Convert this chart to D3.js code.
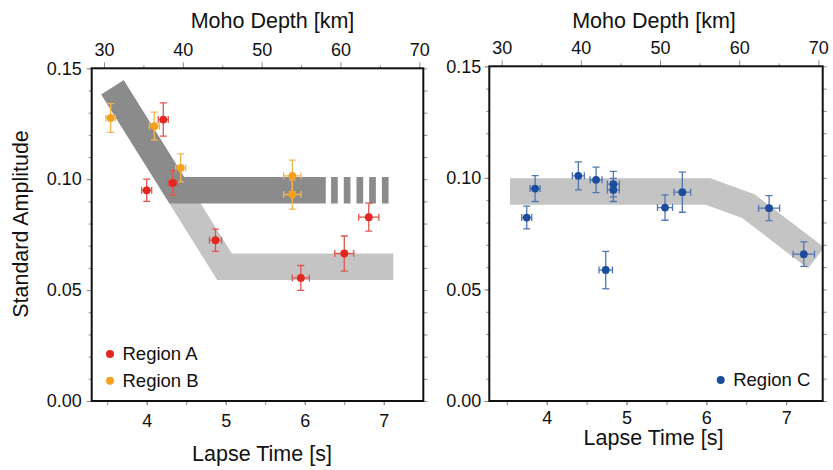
<!DOCTYPE html>
<html>
<head>
<meta charset="utf-8">
<script src="https://cdn.jsdelivr.net/npm/d3@7"></script>
<style>
  body { margin: 0; background: #fff; }
  svg { font-family: "Liberation Sans", Arial, sans-serif; }
</style>
</head>
<body>
<script>
// ---- data ----
var yTicks = [0.00, 0.05, 0.10, 0.15];
var depthTicks = [30, 40, 50, 60, 70];
var timeTicks = [4, 5, 6, 7];

// Region A (red)
var regionA_t  = [4.21, 4.33, 4.00, 4.87, 5.95, 6.50, 6.81];
var regionA_v  = [0.1269, 0.0983, 0.0950, 0.0725, 0.0555, 0.0665, 0.0829];
var regionA_te = [0.063, 0.057, 0.063, 0.076, 0.108, 0.120, 0.127];
var regionA_ve = [0.0075, 0.0056, 0.0050, 0.0050, 0.0056, 0.0079, 0.0063];

// Region B (orange)
var regionB_t  = [3.544, 4.096, 4.43, 5.843, 5.843];
var regionB_v  = [0.1276, 0.1239, 0.1051, 0.1015, 0.0931];
var regionB_te = [0.060, 0.063, 0.063, 0.110, 0.110];
var regionB_ve = [0.0065, 0.0063, 0.0063, 0.0071, 0.0066];

// Region C (blue)
var regionC_t  = [3.749, 3.854, 4.396, 4.618, 4.835, 4.835, 4.739, 5.482, 5.699, 6.786, 7.221];
var regionC_v  = [0.0822, 0.0952, 0.1009, 0.0991, 0.0972, 0.0946, 0.0587, 0.0867, 0.0936, 0.0864, 0.0658];
var regionC_te = [0.063, 0.063, 0.075, 0.075, 0.075, 0.075, 0.084, 0.094, 0.104, 0.132, 0.134];
var regionC_ve = [0.0051, 0.0058, 0.0063, 0.0057, 0.0057, 0.0052, 0.0084, 0.0057, 0.0090, 0.0056, 0.0055];

// trend bands (centre lines)
var bandLight_t = [3.567, 4.985, 7.12];
var bandLight_v = [0.1414, 0.0605, 0.0605];
var bandDark_t  = [3.567, 4.382, 6.266];
var bandDark_v  = [0.1414, 0.0950, 0.0950];
var bandDash_t  = [6.333, 7.07];
var bandDash_v  = [0.0950, 0.0950];
var bandC_t     = [3.54, 6.021, 6.523, 7.375];
var bandC_v     = [0.0939, 0.0939, 0.0874, 0.0641];

var red = "#e3261f", redBar = "#e0544c";
var orange = "#f4a11c", orangeBar = "#f2b450";
var blue = "#1d4c9c", blueBar = "#5075b3";

function zip(t, v, te, ve) {
  return t.map((d, i) => ({t: d, v: v[i], te: te ? te[i] : 0, ve: ve ? ve[i] : 0}));
}

var svg = d3.select("body").append("svg")
  .attr("width", 833).attr("height", 470);

function drawPanel(cfg) {
  var x = d3.scaleLinear().domain(cfg.xDomain).range([cfg.left, cfg.right]);
  var y = d3.scaleLinear().domain([0, 0.15]).range([cfg.bottom, cfg.top]);
  var xTop = d3.scaleLinear().domain([30, 70]).range(cfg.topRange);

  var g = svg.append("g");
  var clipId = "clip" + cfg.id;
  svg.append("clipPath").attr("id", clipId).append("rect")
    .attr("x", cfg.left).attr("y", cfg.top)
    .attr("width", cfg.right - cfg.left).attr("height", cfg.bottom - cfg.top);

  var plot = g.append("g").attr("clip-path", `url(#${clipId})`);
  var line = d3.line().x(d => x(d.t)).y(d => y(d.v));

  cfg.bands.forEach(b => {
    plot.append("path")
      .datum(zip(b.t, b.v))
      .attr("d", line)
      .attr("fill", "none")
      .attr("stroke", b.color)
      .attr("stroke-width", 26.5)
      .attr("stroke-linejoin", "miter")
      .attr("stroke-linecap", "butt")
      .attr("stroke-dasharray", b.dash || null);
  });

  cfg.series.forEach(s => {
    var pts = zip(s.t, s.v, s.te, s.ve);
    var eg = plot.append("g").attr("stroke", s.bar).attr("stroke-width", 1.3).attr("fill", "none");
    pts.forEach(d => {
      var cx = x(d.t), cy = y(d.v);
      var y0 = y(d.v - d.ve), y1 = y(d.v + d.ve);
      var x0 = x(d.t - d.te), x1 = x(d.t + d.te);
      eg.append("line").attr("x1", cx).attr("x2", cx).attr("y1", y0).attr("y2", y1);
      eg.append("line").attr("x1", cx - 3.5).attr("x2", cx + 3.5).attr("y1", y0).attr("y2", y0);
      eg.append("line").attr("x1", cx - 3.5).attr("x2", cx + 3.5).attr("y1", y1).attr("y2", y1);
      eg.append("line").attr("x1", x0).attr("x2", x1).attr("y1", cy).attr("y2", cy);
      eg.append("line").attr("x1", x0).attr("x2", x0).attr("y1", cy - 3.5).attr("y2", cy + 3.5);
      eg.append("line").attr("x1", x1).attr("x2", x1).attr("y1", cy - 3.5).attr("y2", cy + 3.5);
    });
    plot.append("g").selectAll("circle").data(pts).enter().append("circle")
      .attr("cx", d => x(d.t)).attr("cy", d => y(d.v)).attr("r", 3.9)
      .attr("fill", s.color);
  });

  // axes
  var fmt = d3.format(".2f");
  var minorY = d3.range(0, 0.1501, 0.01);
  g.append("g").attr("transform", `translate(${cfg.left},0)`)
    .call(d3.axisLeft(y).tickValues(minorY).tickSize(3).tickFormat(""));
  g.append("g").attr("transform", `translate(${cfg.left},0)`)
    .call(d3.axisLeft(y).tickValues(yTicks).tickSize(5).tickPadding(cfg.yPad).tickFormat(fmt));
  g.append("g").attr("transform", `translate(${cfg.right},0)`)
    .call(d3.axisRight(y).tickValues(minorY).tickSize(4).tickFormat(""));

  var minorT = d3.range(3.5, cfg.xDomain[1], 0.5);
  g.append("g").attr("transform", `translate(0,${cfg.bottom})`)
    .call(d3.axisBottom(x).tickValues(minorT).tickSize(4).tickFormat(""));
  g.append("g").attr("transform", `translate(0,${cfg.bottom})`)
    .call(d3.axisBottom(x).tickValues(timeTicks).tickSize(4).tickPadding(cfg.xPad).tickFormat(d3.format("d")));

  g.append("g").attr("transform", `translate(0,${cfg.top})`)
    .call(d3.axisTop(xTop).tickValues([35, 45, 55, 65]).tickSize(3).tickFormat(""));
  g.append("g").attr("transform", `translate(0,${cfg.top})`)
    .call(d3.axisTop(xTop).tickValues(depthTicks).tickSize(6).tickPadding(6).tickFormat(d3.format("d")));

  g.selectAll(".domain").remove();
  g.selectAll(".tick line").attr("stroke", "#8a8a8a").attr("stroke-width", 1);
  g.selectAll(".tick text").attr("font-size", 18).attr("fill", "#111")
    .attr("font-family", "Liberation Sans, Arial, sans-serif");

  g.append("rect")
    .attr("x", cfg.left).attr("y", cfg.top)
    .attr("width", cfg.right - cfg.left).attr("height", cfg.bottom - cfg.top)
    .attr("fill", "none").attr("stroke", "#111").attr("stroke-width", 2);

  // titles
  g.append("text").attr("x", cfg.topTitle[0]).attr("y", cfg.topTitle[1])
    .attr("text-anchor", "middle").attr("font-size", 21.5).attr("fill", "#111")
    .text("Moho Depth [km]");
  g.append("text").attr("x", cfg.botTitle[0]).attr("y", cfg.botTitle[1])
    .attr("text-anchor", "middle").attr("font-size", 21.5).attr("fill", "#111")
    .text("Lapse Time [s]");

  // legend
  cfg.legend.forEach(l => {
    g.append("circle").attr("cx", l.x).attr("cy", l.y).attr("r", 4).attr("fill", l.color);
    g.append("text").attr("x", l.x + 12.5).attr("y", l.y).attr("dy", "0.35em")
      .attr("font-size", 18.5).attr("fill", "#111").text(l.label);
  });
}

drawPanel({
  id: "A",
  left: 91.7, right: 423.3, top: 68.3, bottom: 401,
  xDomain: [3.304, 7.50], topRange: [104, 419.3],
  yPad: 5, xPad: 9,
  topTitle: [272.5, 28], botTitle: [262, 461],
  bands: [
    {t: bandLight_t, v: bandLight_v, color: "#c4c4c4"},
    {t: bandDark_t, v: bandDark_v, color: "#8b8b8b"},
    {t: bandDash_t, v: bandDash_v, color: "#8b8b8b", dash: "6.7,6"}
  ],
  series: [
    {t: regionB_t, v: regionB_v, te: regionB_te, ve: regionB_ve, color: orange, bar: orangeBar},
    {t: regionA_t, v: regionA_v, te: regionA_te, ve: regionA_ve, color: red, bar: redBar}
  ],
  legend: [
    {x: 110, y: 354, color: red, label: "Region A"},
    {x: 110, y: 380.7, color: orange, label: "Region B"}
  ]
});

drawPanel({
  id: "C",
  left: 489.3, right: 822.7, top: 66.3, bottom: 401,
  xDomain: [3.28, 7.458], topRange: [501.7, 818.3],
  yPad: 3, xPad: 6,
  topTitle: [654, 28], botTitle: [653.5, 445],
  bands: [
    {t: bandC_t, v: bandC_v, color: "#c4c4c4"}
  ],
  series: [
    {t: regionC_t, v: regionC_v, te: regionC_te, ve: regionC_ve, color: blue, bar: blueBar}
  ],
  legend: [
    {x: 720.7, y: 380, color: blue, label: "Region C"}
  ]
});

svg.append("text")
  .attr("transform", "translate(28,224) rotate(-90)")
  .attr("text-anchor", "middle").attr("font-size", 21.5).attr("fill", "#111")
  .text("Standard Amplitude");
</script>
</body>
</html>
